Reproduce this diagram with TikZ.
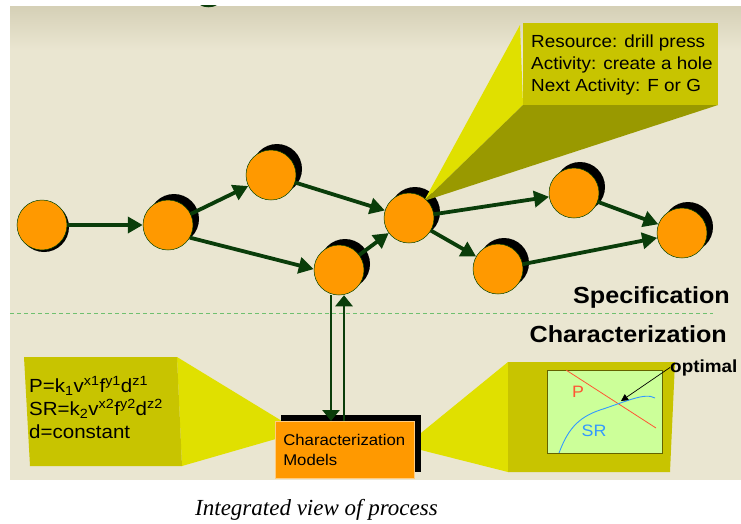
\documentclass[tikz,border=0pt]{standalone}
\usepackage{fontspec}
\setmainfont{Liberation Sans}[FakeStretch=1.08]
\newfontfamily\capfont{Liberation Serif}
\usetikzlibrary{arrows.meta,calc}
\definecolor{bg}{HTML}{EAE6D1}
\definecolor{bgtop}{HTML}{D5D0B6}
\definecolor{orng}{HTML}{FF9900}
\definecolor{dgreen}{HTML}{0A3D0A}
\definecolor{olive}{HTML}{C8C400}
\definecolor{yface}{HTML}{E0E000}
\definecolor{dface}{HTML}{999900}
\definecolor{chartbg}{HTML}{CCFF99}
\definecolor{dashgreen}{HTML}{6FC06F}
\definecolor{pred}{HTML}{FF5533}
\definecolor{srblue}{HTML}{3399FF}
\begin{document}
\begin{tikzpicture}[x=1pt,y=-1pt,
  proc/.style={circle, fill=orng, draw=black!55!green!60!black, line width=0.5pt, minimum size=50pt, inner sep=0pt},
  flow/.style={draw=dgreen, line width=3.8pt, -{Triangle[length=15pt,width=16pt]}},
  link/.style={draw=dgreen, line width=2.7pt, -{Triangle[length=11pt,width=17pt]}},
  txt/.style={anchor=base west, inner sep=0pt},
  calltxt/.style={txt, font=\fontsize{17.5}{21}\selectfont},
  eqtxt/.style={txt, font=\fontsize{19}{23}\selectfont},
  head/.style={anchor=base east, inner sep=0pt, font=\bfseries\fontsize{23.3}{28}\selectfont},
]
\useasboundingbox (0,0) rectangle (741,523);
\fill[white] (0,0) rectangle (741,523);
\fill[bg] (10,6) rectangle (741,480);
\shade[top color=bgtop, bottom color=bg] (10,6) rectangle (741,50);
\fill[dgreen] (200,5) .. controls (204,8) and (213,8) .. (217,5) -- cycle;

% dashed separator
\draw[dashgreen, line width=1pt, dash pattern=on 4pt off 3pt] (10,313) -- (713,313);

% circle positions
\coordinate (pA) at (42,225);
\coordinate (pB) at (168,225);
\coordinate (pC) at (271,175);
\coordinate (pD) at (339,270);
\coordinate (pE) at (409,218);
\coordinate (pF) at (574,193);
\coordinate (pG) at (498,269);
\coordinate (pH) at (682,233);

% shadows
\fill[black] ($(pA)+(2,2)$) circle (25pt);
\foreach \p in {pB,pC,pD,pE,pF,pG,pH}
  \fill[black] ($(\p)+(6,-6)$) circle (25pt);

% top callout
\fill[yface] (424,201) -- (520,25) -- (523,105) -- cycle;
\fill[dface] (424,201) -- (523,105) -- (718,105) -- cycle;
\fill[olive] (523,23) rectangle (718,105);
\node[calltxt] (r1) at (531,47) {Resource: drill press};
\node[calltxt] (r2) at (531,69) {Activity: create a hole};
\node[calltxt] (r3) at (531,91) {Next Activity: F or G};

% left callout
\fill[yface] (177,357) -- (300,432) -- (182,466) -- cycle;
\fill[olive] (24,357) -- (177,357) -- (182,466) -- (30,466) -- cycle;
\node[eqtxt] (e1) at (29,392) {P=k\textsubscript{1}v\textsuperscript{x1}f\textsuperscript{y1}d\textsuperscript{z1}};
\node[eqtxt] (e2) at (29,415) {SR=k\textsubscript{2}v\textsuperscript{x2}f\textsuperscript{y2}d\textsuperscript{z2}};
\node[eqtxt] (e3) at (29,438) {d=constant};

% right callout (chart)
\fill[yface] (405,446) -- (508,362) -- (508,472) -- cycle;
\fill[olive] (508,362) -- (675,362) -- (670,472) -- (508,472) -- cycle;
\node[fill=chartbg, draw=black!50!olive, line width=0.6pt, anchor=north west,
      minimum width=115pt, minimum height=83pt, inner sep=0pt] (chart) at (547,370) {};
\draw[pred, line width=0.8pt] (566,370) -- (656,428);
\draw[srblue, line width=0.9pt] (559,453) .. controls (567,432) and (576,418) .. (600,410)
   .. controls (625,402) and (645,392) .. (655,398);
\node[text=pred, font=\fontsize{16.5}{19}\selectfont, inner sep=0pt] (plabel) at (578,392) {P};
\node[text=srblue, font=\fontsize{16.5}{19}\selectfont, inner sep=0pt] (srlabel) at (594,431) {SR};
\node[txt, font=\bfseries\fontsize{17.5}{20}\selectfont] (opt) at (670,372) {optimal};
\coordinate (optpt) at (621,401);
\draw[black, line width=0.7pt, -{Triangle[length=7pt,width=7pt]}] (opt.west) -- (optpt);

% characterization models box
\node[fill=black, anchor=north west, minimum width=140pt, minimum height=57pt, inner sep=0pt] (CMs) at (281,415) {};
\node[fill=orng, draw=orng!50!white, line width=0.6pt, anchor=north west, align=left,
      text width=123pt, inner xsep=8pt, inner ysep=0pt, minimum height=57pt,
      font=\fontsize{15.5}{20}\selectfont] (CM) at (275,421) {Characterization\\Models};

% circles
\node[proc] (A) at (pA) {};
\node[proc] (B) at (pB) {};
\node[proc] (C) at (pC) {};
\node[proc] (D) at (pD) {};
\node[proc] (E) at (pE) {};
\node[proc] (F) at (pF) {};
\node[proc] (G) at (pG) {};
\node[proc] (H) at (pH) {};

% flow arrows
\draw[flow] (A) -- (B);
\draw[flow] (B) -- (C);
\draw[flow] (B.-30) -- (D.178);
\draw[flow] (C) -- (E);
\draw[flow] (D) -- (E);
\draw[flow] (E) -- (F);
\draw[flow] (E) -- (G);
\draw[flow] (F) -- (H);
\draw[flow] (G) -- (H);

% vertical links
\draw[link] ([xshift=-8pt]D.south) -- ([xshift=-8pt]D.south |- CM.north);
\draw[link] ([xshift=5pt]D.south |- CM.north) -- ([xshift=5pt]D.south);

% labels
\node[head] (spec) at (730,303) {Specification};
\node[head] (charlab) at (727,342) {Characterization};
\node[anchor=base west, inner sep=0pt, font=\capfont\itshape\fontsize{23}{27}\selectfont] (cap) at (195,515) {Integrated view of process};
\end{tikzpicture}
\end{document}
